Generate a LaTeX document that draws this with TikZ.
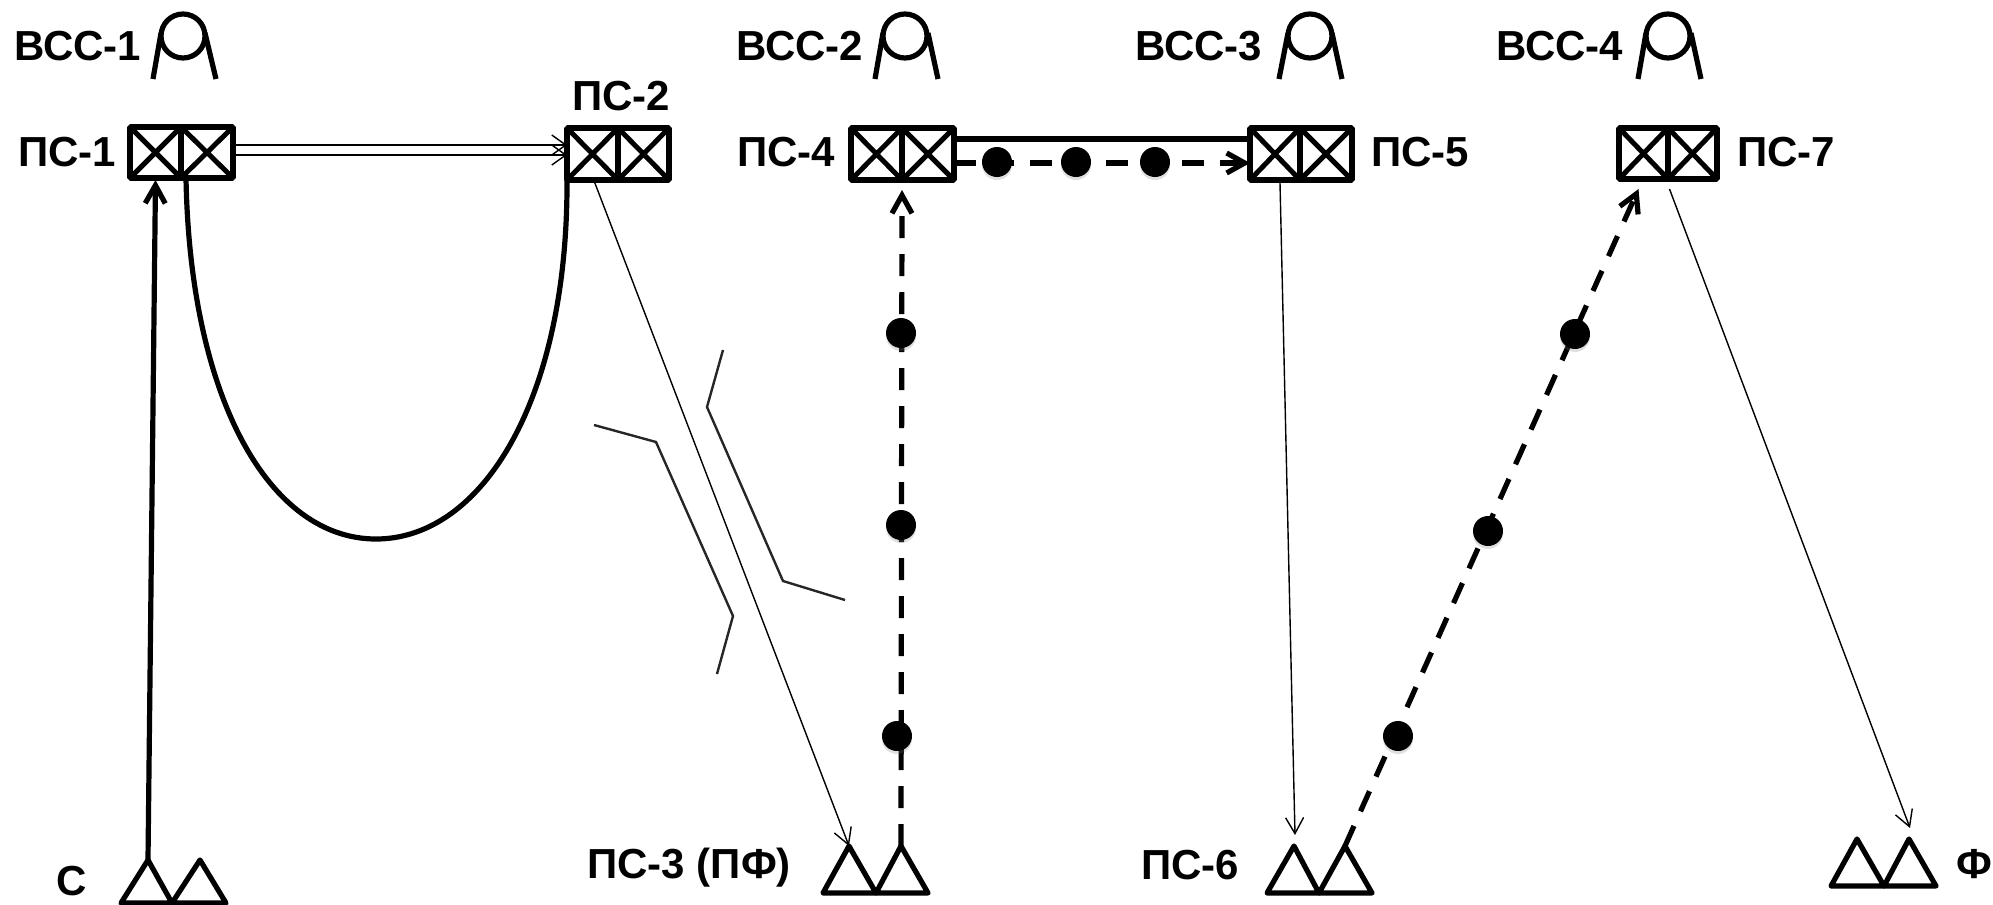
\documentclass[tikz,border=0pt]{standalone}
\usepackage{fontspec}
\setmainfont{Liberation Sans}
\usetikzlibrary{arrows.meta,calc,shadows}
\tikzset{
  lab/.style={font=\fontsize{21pt}{23pt}\bfseries\selectfont,inner sep=0pt,anchor=base west},
  cell/.style={draw,line width=2.8pt,rounded corners=0.5pt,inner sep=0pt,outer sep=0pt},
  sym/.style={line width=2.6pt,line join=round},
  thick link/.style={line width=2.6pt},
  thin link/.style={line width=0.7pt,-{Straight Barb[length=8pt,width=9pt,line width=0.7pt]}},
  heavy tip/.style={-{Straight Barb[length=9pt,width=10pt,line width=2.6pt]}},
  dash link/.style={thick link,heavy tip,dash pattern=on 11pt off 8pt},
  dotn/.style={circle,fill=black,minimum size=15pt,inner sep=0pt,
    drop shadow={shadow xshift=0pt,shadow yshift=-1.5pt,opacity=0.25}},
  path line/.style={line width=1.2pt,color=black!85}
}
% \xbox{name}{x1}{x2}{y1}{y2}
\newcommand{\xbox}[5]{%
  \node[cell,minimum width={(#3-#2)*0.5pt},minimum height={(#5-#4)*0.5pt}] (#1) at ({(#2+#3)/2},{(#4+#5)/2}) {};
  \draw[line width=2.5pt] (#1.north west) -- (#1.south east) (#1.north east) -- (#1.south west);
}
% \vcc{name}{cx}{leftTop}{leftBot}{rightTop}{rightBot}
\newcommand{\vcc}[6]{%
  \draw[sym] (#2,36) circle[radius=11pt];
  \draw[sym] (#3,33) -- (#4,79);
  \draw[sym] (#5,33) -- (#6,79);
}
% \tri{apexname}{apexx}{x1}{x2}{ytop}{ybase}
\newcommand{\tri}[6]{%
  \coordinate (#1) at (#2,#5);
  \draw[sym] (#1) -- (#3,#6) -- (#4,#6) -- cycle;
}
\begin{document}
\begin{tikzpicture}[x=0.5pt,y=-0.5pt]
\useasboundingbox (0,0) rectangle (1993,905);

% labels
\node[lab] (lv1) at (14,60) {ВСС-1};
\node[lab] (lv2) at (736,60) {ВСС-2};
\node[lab] (lv3) at (1135,60) {ВСС-3};
\node[lab] (lv4) at (1496,60) {ВСС-4};
\node[lab] (lp1) at (18,166) {ПС-1};
\node[lab] (lp2) at (572,110) {ПС-2};
\node[lab] (lp4) at (737,166) {ПС-4};
\node[lab] (lp5) at (1371,166) {ПС-5};
\node[lab] (lp7) at (1737,166) {ПС-7};
\node[lab] (lc) at (56,895) {С};
\node[lab] (lp3) at (587,878) {ПС-3 (ПФ)};
\node[lab] (lp6) at (1141,879) {ПС-6};
\node[lab] (lf) at (1956,878) {Ф};

% VSS symbols
\vcc{v1}{183}{161}{153}{205}{216}
\vcc{v2}{905}{883}{875}{928}{938}
\vcc{v3}{1310}{1288}{1279}{1332}{1342}
\vcc{v4}{1668}{1646}{1638}{1691}{1701}

% boxes
\xbox{p1a}{130}{181}{127}{178}
\xbox{p1b}{181}{233}{127}{178}
\xbox{p2a}{567}{618}{128}{180}
\xbox{p2b}{618}{669}{128}{180}
\xbox{p4a}{851}{902}{128}{180}
\xbox{p4b}{902}{954}{128}{180}
\xbox{p5a}{1250}{1300}{128}{180}
\xbox{p5b}{1300}{1352}{128}{180}
\xbox{p7a}{1619}{1668}{128}{179}
\xbox{p7b}{1668}{1717}{128}{179}

% triangles
\tri{tc1}{148}{121}{172}{860}{903}
\tri{tc2}{200}{172}{226}{860}{903}
\tri{t31}{849}{823}{876}{846}{893}
\tri{t32}{901}{876}{928}{846}{893}
\tri{t61}{1294}{1267}{1319}{846}{893}
\tri{t62}{1345}{1319}{1372}{846}{893}
\tri{tf1}{1857}{1831}{1884}{839}{886}
\tri{tf2}{1909}{1884}{1936}{839}{886}

% solid links
\draw[thick link,heavy tip] (tc1) -- ($(p1a.south)+(0,2)$);
\draw[thick link] ($(p1b.south west)+(5,0)$) .. controls (190,400) and (270,539) .. (376,539)
  .. controls (482,539) and (568,400) .. (p2a.south west);
\draw[line width=0.9pt,-{Straight Barb[length=7pt,width=10pt,line width=0.7pt]}] ($(p1b.east)+(0,-7.5)$) -- ($(p2a.west)+(0,-9)$);
\draw[line width=0.9pt,-{Straight Barb[length=7pt,width=10pt,line width=0.7pt]}] ($(p1b.east)+(0,2.5)$) -- ($(p2a.west)+(0,1)$);
\draw[thick link] ($(p4b.east)+(0,-15)$) -- ($(p5a.west)+(0,-15)$);

% thin links
\draw[thin link] ($(p2a.south)+(2,2)$) -- (t31);
\draw[thin link] ($(p5a.south)+(5,3)$) -- ($(t61)+(1,-11)$);
\draw[thin link] ($(p7b.south)+(-23,10)$) -- ($(tf2)+(1,-11)$);

% dotted-dashed links
\draw[dash link] (p4b.east |- 0,163) -- (p5a.west |- 0,163);
\draw[dash link] (t32) -- ($(p4a.south east)+(0,10)$);
\draw[dash link] (t62) -- ($(p7a.south)+(-5,10)$);
\node[dotn] (d1) at (997,162) {};
\node[dotn] (d2) at (1076,162) {};
\node[dotn] (d3) at (1155,162) {};
\node[dotn] (d4) at (901,333) {};
\node[dotn] (d5) at (901,525) {};
\node[dotn] (d6) at (897,736) {};
\node[dotn] (d7) at (1398,736) {};
\node[dotn] (d8) at (1488,531) {};
\node[dotn] (d9) at (1575,334) {};

% bracket lines
\draw[path line] (723,350) -- (707,407) -- (783,581) -- (845,600);
\draw[path line] (594,425) -- (656,442) -- (733,616) -- (717,674);
\end{tikzpicture}
\end{document}
